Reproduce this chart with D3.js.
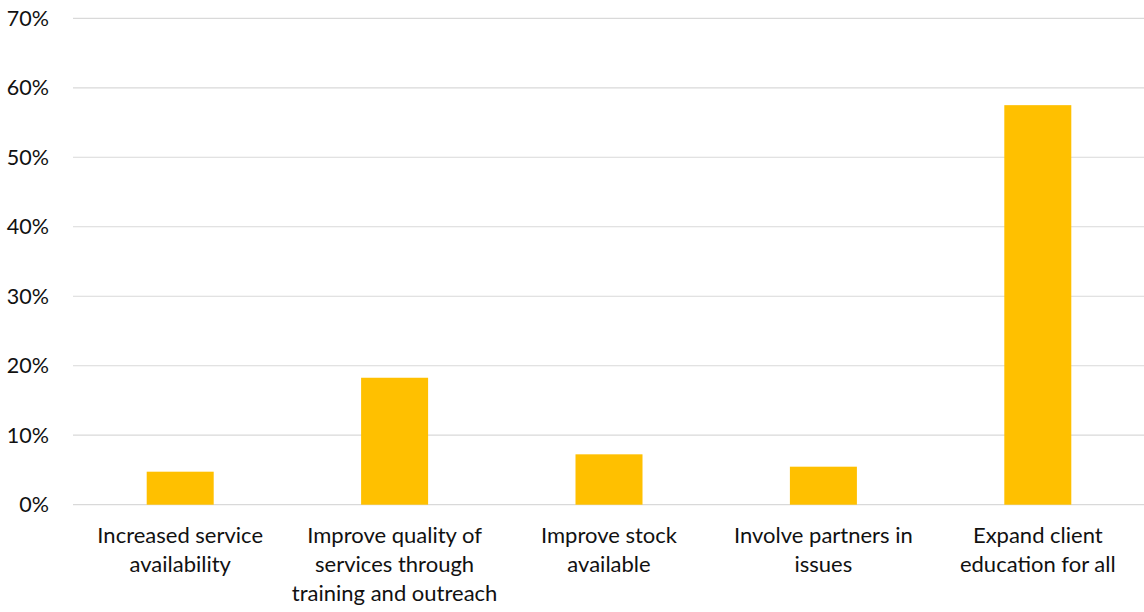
<!DOCTYPE html>
<html>
<head>
<meta charset="utf-8">
<script src="https://cdn.jsdelivr.net/npm/d3@7"></script>
<style>
  body { margin: 0; background: #fff; }
  svg { display: block; }
  text { font-family: Lato, "Open Sans", sans-serif; fill: #111; }
</style>
</head>
<body>
<div id="chart"></div>
<script>
'use strict';

// categories (already wrapped the way the picture shows them)
var categories = [
  ["Increased service", "availability"],
  ["Improve quality of", "services through", "training and outreach"],
  ["Improve stock", "available"],
  ["Involve partners in", "issues"],
  ["Expand client", "education for all"]
];
var values = [0.0475, 0.1827, 0.0725, 0.0547, 0.575];
var yTicks = [0, 0.1, 0.2, 0.3, 0.4, 0.5, 0.6, 0.7];

var width = 1144, height = 612;
var margin = { top: 18.3, right: -1, bottom: 107.3, left: 73 };

var svg = d3.select("#chart").append("svg")
    .attr("width", width)
    .attr("height", height);

var x = d3.scaleBand()
    .domain(d3.range(categories.length))
    .range([margin.left, width - margin.right])
    .paddingInner(0.6875)
    .paddingOuter(0.34375);

var y = d3.scaleLinear()
    .domain([0, 0.7])
    .range([height - margin.bottom, margin.top]);

// gridlines
svg.append("g")
  .selectAll("line")
  .data(yTicks)
  .join("line")
    .attr("x1", margin.left)
    .attr("x2", width - margin.right)
    .attr("y1", d => y(d))
    .attr("y2", d => y(d))
    .attr("stroke", "#d9d9d9")
    .attr("stroke-width", 1.2);

// y labels
svg.append("g")
  .selectAll("text")
  .data(yTicks)
  .join("text")
    .attr("x", 49)
    .attr("y", d => y(d))
    .attr("dy", "0.35em")
    .attr("text-anchor", "end")
    .style("font-size", "21.5px")
    .text(d => d3.format(".0%")(d));

// bars
svg.append("g")
  .selectAll("rect")
  .data(values)
  .join("rect")
    .attr("x", (d, i) => x(i))
    .attr("width", x.bandwidth())
    .attr("y", d => y(d))
    .attr("height", d => y(0) - y(d))
    .attr("fill", "#FFC000");

// category labels
var lab = svg.append("g")
  .selectAll("text")
  .data(categories)
  .join("text")
    .attr("text-anchor", "middle")
    .style("font-size", "22px")
    .attr("transform", (d, i) => `translate(${x(i) + x.bandwidth() / 2},${y(0) + 38.5})`);

lab.selectAll("tspan")
  .data(d => d)
  .join("tspan")
    .attr("x", 0)
    .attr("y", (d, i) => i * 29)
    .text(d => d);
</script>
</body>
</html>
